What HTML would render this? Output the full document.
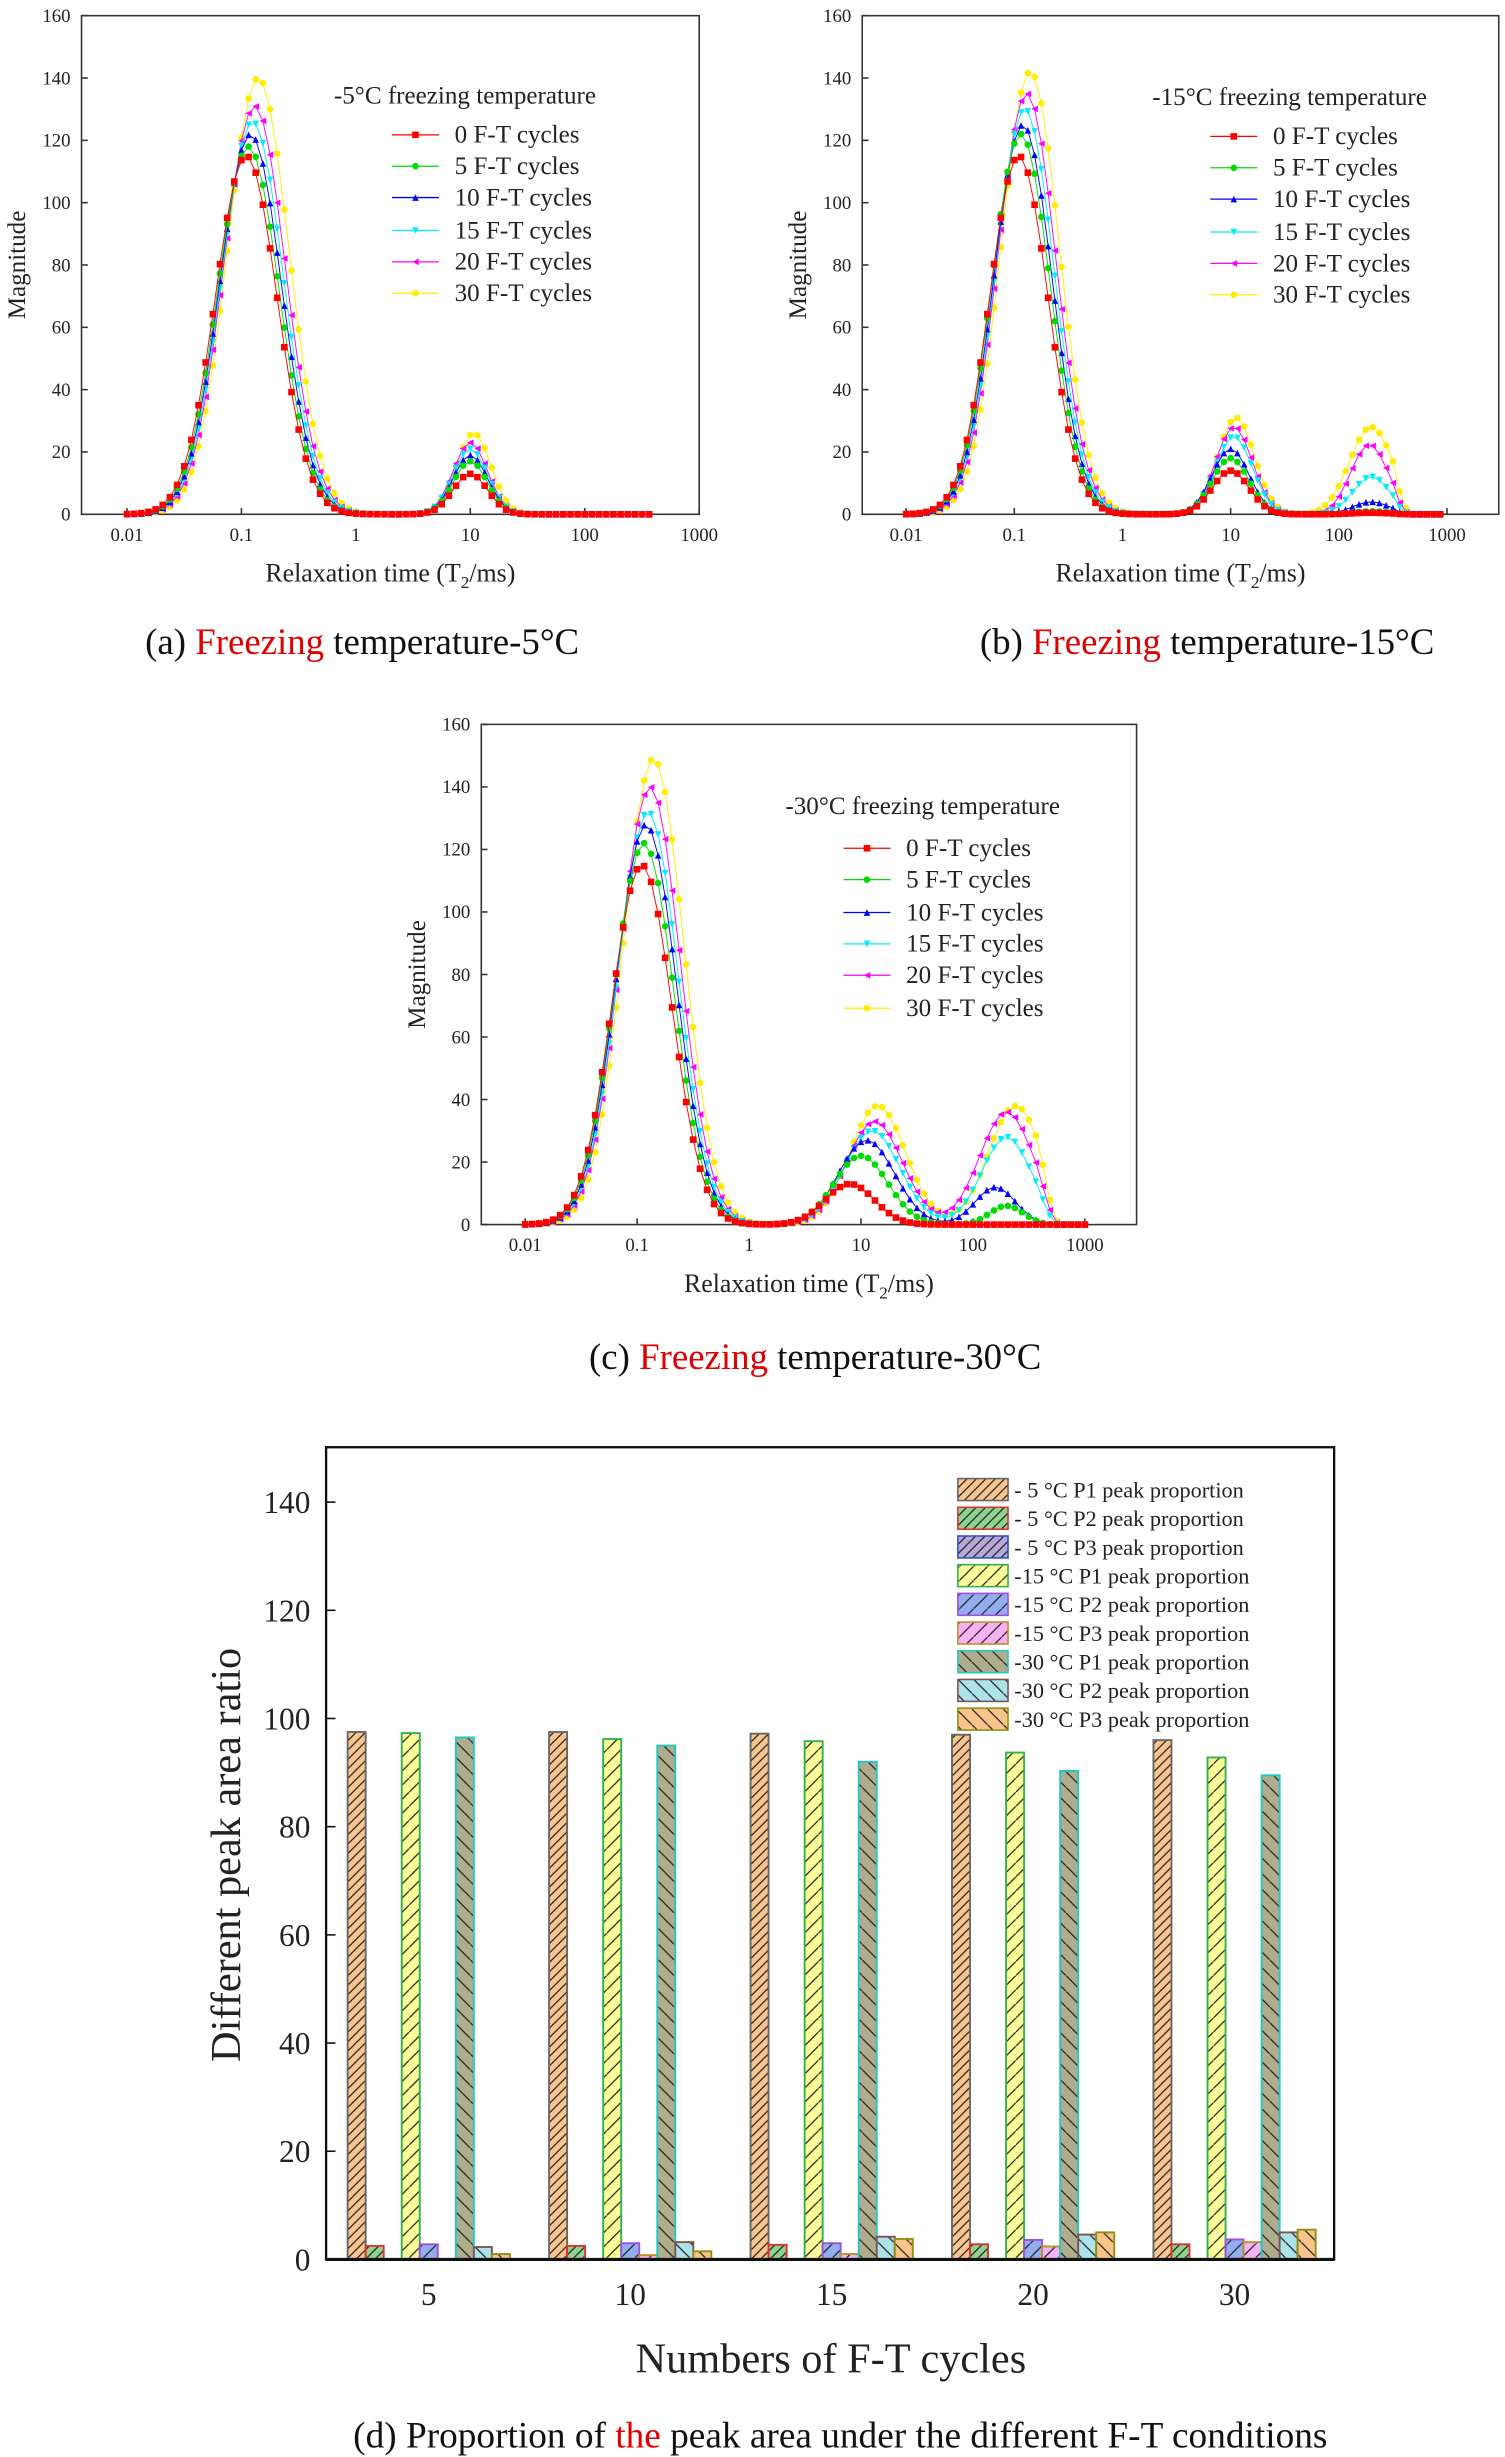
<!DOCTYPE html>
<html><head><meta charset="utf-8"><style>html,body{margin:0;padding:0;background:#fff}svg{display:block}</style></head>
<body>
<svg id="s" width="1505" height="2457" viewBox="0 0 960 1567" preserveAspectRatio="none" xmlns="http://www.w3.org/2000/svg" font-family="Liberation Serif, serif">
<defs>
<pattern id="h1" width="6" height="6" patternUnits="userSpaceOnUse"><path d="M-1,7 L7,-1 M-1,1 L1,-1 M5,7 L7,5" stroke="#222" stroke-width="0.8"/></pattern>
<pattern id="h2" width="9" height="9" patternUnits="userSpaceOnUse"><path d="M-1,10 L10,-1" stroke="#222" stroke-width="0.8"/></pattern>
<pattern id="h3" width="10" height="10" patternUnits="userSpaceOnUse"><path d="M-1,-1 L11,11" stroke="#222" stroke-width="0.8"/></pattern>
</defs>
<g id="g"></g>
</svg>
<script>
var g=document.getElementById('g'),out='';
function T(x,y,t,o){o=o||{};out+='<text x="'+x+'" y="'+y+'" font-size="'+(o.fs||12)+'" text-anchor="'+(o.a||'start')+'" fill="'+(o.c||'#222')+'"'+(o.r?' transform="rotate(-90 '+x+' '+y+')"':'')+'>'+t+'</text>';}
var cols=['#ff0000','#00dd00','#0000ff','#00eeff','#ff00ff','#ffee00'];
var labs=['0 F-T cycles','5 F-T cycles','10 F-T cycles','15 F-T cycles','20 F-T cycles','30 F-T cycles'];
function marker(k,x,y){var c=cols[k],s=2.1;
 if(k==0)return '<rect x="'+(x-s)+'" y="'+(y-s)+'" width="'+2*s+'" height="'+2*s+'" fill="'+c+'"/>';
 if(k==1||k==5)return '<circle cx="'+x+'" cy="'+y+'" r="'+s+'" fill="'+c+'"/>';
 if(k==2)return '<path d="M'+x+','+(y-s)+'L'+(x+s)+','+(y+s)+'L'+(x-s)+','+(y+s)+'Z" fill="'+c+'"/>';
 if(k==3)return '<path d="M'+x+','+(y+s)+'L'+(x+s)+','+(y-s)+'L'+(x-s)+','+(y-s)+'Z" fill="'+c+'"/>';
 return '<path d="M'+(x-s)+','+y+'L'+(x+s)+','+(y-s)+'L'+(x+s)+','+(y+s)+'Z" fill="'+c+'"/>';}
function chart(c){
 var X=function(v){return c.x001+(v+2)*c.dec;},Y=function(v){return c.y0-v*(c.y0-c.y160)/160;};
 out+='<rect x="'+c.L+'" y="'+c.y160+'" width="'+(c.R-c.L)+'" height="'+(c.y0-c.y160)+'" fill="none" stroke="#333" stroke-width="1"/>';
 for(var v=0;v<=160;v+=20){var y=Y(v);out+='<line x1="'+c.L+'" x2="'+(c.L+4)+'" y1="'+y+'" y2="'+y+'" stroke="#333"/>';T(c.L-7,y+4,v,{a:'end'});}
 var xl=['0.01','0.1','1','10','100','1000'];
 for(var i=0;i<6;i++){var x=X(i-2);out+='<line x1="'+x+'" x2="'+x+'" y1="'+c.y0+'" y2="'+(c.y0-4)+'" stroke="#333"/>';T(x,c.y0+17,xl[i],{a:'middle'});}
 T(c.L-36,(c.y0+c.y160)/2,'Magnitude',{fs:16,a:'middle',r:1});
 T((c.L+c.R)/2,c.y0+43,'Relaxation time (T<tspan font-size="11" dy="4">2</tspan><tspan dy="-4">/ms)</tspan>',{fs:16.5,a:'middle'});
 for(var k=5;k>=0;k--){var pts=[],pk=c.peaks[k];
  for(var l=-2;l<=c.end+0.001;l+=1/16){var v=0;pk.forEach(function(p){var d=l-p[0];v+=p[1]*Math.exp(-d*d/(2*p[2]*p[2]));});
   if(l>c.cut)v=v*Math.max(0,1-(l-c.cut)*6);pts.push([X(l),Y(v)]);}
  out+='<polyline points="'+pts.map(function(p){return p[0].toFixed(1)+','+p[1].toFixed(1)}).join(' ')+'" fill="none" stroke="'+cols[k]+'" stroke-width="0.6"/>';
  pts.forEach(function(p){out+=marker(k,p[0],p[1]);});}
 T(c.lx0-37,c.ty,c.title,{fs:16});
 for(k=0;k<6;k++){var y=c.ly[k];out+='<line x1="'+c.lx0+'" x2="'+(c.lx0+30)+'" y1="'+y+'" y2="'+y+'" stroke="'+cols[k]+'" stroke-width="0.8"/>'+marker(k,c.lx0+15,y);T(c.lx0+40,y+5,labs[k],{fs:16});}
}
var L1=Math.log10;
chart({L:52,R:446,y0:328,y160:10,x001:81,dec:73,end:2.6,cut:9,title:'-5°C freezing temperature',lx0:250,ty:66,ly:[86,106,126,147,167,187],
 peaks:[[[L1(0.11),115,0.27],[1,13,0.15]],[[L1(0.115),118,0.27],[1,17,0.15]],[[L1(0.12),122,0.27],[1,19,0.15]],[[L1(0.125),126,0.27],[1,21,0.15]],[[L1(0.13),131,0.27],[1,23,0.15]],[[L1(0.14),140,0.27],[1.03,26,0.15]]]});
chart({L:550,R:956,y0:328,y160:10,x001:578,dec:69,end:2.95,cut:2.5,title:'-15°C freezing temperature',lx0:772,ty:67,ly:[87,107,127,148,168,188],
 peaks:[[[L1(0.11),115,0.27],[1,14,0.17]],[[L1(0.115),122,0.27],[1,18,0.17]],[[L1(0.12),125,0.27],[1,21,0.17]],[[L1(0.125),130,0.27],[1.03,25,0.17]],[[L1(0.13),135,0.27],[1.03,28,0.17],[2.2,4,0.15]],[[L1(0.14),142,0.27],[1.05,31,0.17],[2.3,28,0.2]]].map(function(p,i){var h=[0.5,1,4,12,19,0][i];if(i<5)p.push([2.3,h,0.17]);return p;})});
chart({L:307,R:725,y0:781,y160:462,x001:335,dec:71.4,end:3,cut:2.6,title:'-30°C freezing temperature',lx0:538,ty:519,ly:[541,561,582,602,622,643],
 peaks:[[[L1(0.11),115,0.27],[0.9,13,0.22]],[[L1(0.115),122,0.27],[1.0,22,0.24],[2.3,6,0.15]],[[L1(0.12),128,0.27],[1.05,27,0.25],[2.2,12,0.18]],[[L1(0.125),132,0.27],[1.1,30,0.25],[2.3,28,0.22]],[[L1(0.13),140,0.27],[1.12,33,0.25],[2.3,36,0.24]],[[L1(0.14),149,0.27],[1.15,38,0.25],[2.38,38,0.24]]]});
function cap(x,y,a,b){out+='<text x="'+x+'" y="'+y+'" font-size="23.5" text-anchor="middle" fill="#111">'+a+'<tspan fill="#e00000">Freezing</tspan>'+b+'</text>';}
cap(231,417,'(a) ',' temperature-5°C');cap(770,417,'(b) ',' temperature-15°C');cap(520,873,'(c) ',' temperature-30°C');
var by0=1441,sc=(1441-958)/140;
out+='<rect x="208" y="923" width="643" height="518" fill="none" stroke="#111" stroke-width="1.5"/>';
for(var v=0;v<=140;v+=20){var y=by0-v*sc;out+='<line x1="208" x2="214" y1="'+y+'" y2="'+y+'" stroke="#111"/>';T(198,y+7,v,{fs:20,a:'end'});}
var fills=['#f8c58f','#8ed38f','#b6a9d8','#fcfc98','#92aef0','#f6b2f6','#b0ad8c','#ace2ea','#f9c48a'];
var strokes=['#666','#e03030','#3050d0','#30b050','#a050e0','#c09020','#20c8c8','#805050','#909010'];
var pats=['h1','h1','h1','h2','h2','h2','h3','h3','h3'];
var data=[[97.5,2.5,0,97.3,2.8,0,96.5,2.3,1],[97.5,2.5,0,96.2,3,0.8,95,3.2,1.5],[97.2,2.7,0,95.8,3,1,92,4.2,3.8],[97,2.8,0,93.7,3.6,2.4,90.3,4.6,5],[96,2.8,0,92.8,3.7,3.2,89.5,5,5.5]];
var gx=['5','10','15','20','30'],bw=11.5;
for(var i=0;i<5;i++){var cx=273.5+i*128.5,x0=cx-4.5*bw;
 out+='<line x1="'+cx+'" x2="'+cx+'" y1="'+by0+'" y2="'+(by0-6)+'" stroke="#111"/>';T(cx,1470,gx[i],{fs:20,a:'middle'});
 for(var j=0;j<9;j++){var v=data[i][j];if(!v)continue;var h=v*sc,x=x0+j*bw;
  out+='<rect x="'+x+'" y="'+(by0-h)+'" width="'+bw+'" height="'+h+'" fill="'+fills[j]+'"/><rect x="'+x+'" y="'+(by0-h)+'" width="'+bw+'" height="'+h+'" fill="url(#'+pats[j]+')" stroke="'+strokes[j]+'" stroke-width="1.2"/>';}}
out+='<line x1="208" x2="851" y1="1441" y2="1441" stroke="#111" stroke-width="2"/>';
var ln=['- 5 °C P1','- 5 °C P2','- 5 °C P3','-15 °C P1','-15 °C P2','-15 °C P3','-30 °C P1','-30 °C P2','-30 °C P3'];
for(var j=0;j<9;j++){var y=943+j*18.3;out+='<rect x="611" y="'+y+'" width="32" height="14" fill="'+fills[j]+'"/><rect x="611" y="'+y+'" width="32" height="14" fill="url(#'+pats[j]+')" stroke="'+strokes[j]+'" stroke-width="1"/>';T(647,y+12,ln[j]+' peak proportion',{fs:14.2});}
T(153,1183,'Different peak area ratio',{fs:27,a:'middle',r:1});
T(530,1513,'Numbers of F-T cycles',{fs:27,a:'middle'});
out+='<text x="536" y="1561" font-size="23.8" text-anchor="middle" fill="#111">(d) Proportion of <tspan fill="#e00000">the</tspan> peak area under the different F-T conditions</text>';
g.innerHTML=out;
</script>
</body></html>
